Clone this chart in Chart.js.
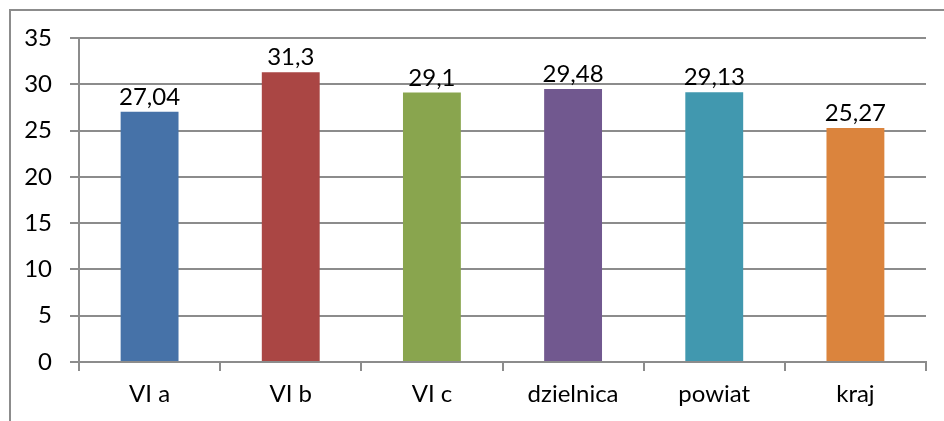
<!DOCTYPE html>
<html>
<head>
<meta charset="utf-8">
<script src="https://cdn.jsdelivr.net/npm/chart.js@4"></script>
<style>
html,body{margin:0;padding:0;background:#fff;}
#wrap{position:relative;width:944px;height:421px;}
#frame{position:absolute;left:9px;top:9px;width:960px;height:430px;border:2px solid #8c8c8c;box-sizing:border-box;}
canvas{position:absolute;left:0;top:0;}
</style>
</head>
<body>
<div id="wrap">
<div id="frame"></div>
<canvas id="c" width="944" height="421"></canvas>
</div>
<script>
const categories = ["VI a", "VI b", "VI c", "dzielnica", "powiat", "kraj"];
const values = [27.04, 31.3, 29.1, 29.48, 29.13, 25.27];
const valueLabels = ["27,04", "31,3", "29,1", "29,48", "29,13", "25,27"];
const barColors = ["#4672A8", "#AA4644", "#89A54E", "#71588F", "#4198AF", "#DB843D"];
const yTicks = [0, 5, 10, 15, 20, 25, 30, 35];

const FONT = "Lato, 'Open Sans', sans-serif";

const labelPlugin = {
  id: 'valueLabels',
  afterDatasetsDraw(chart) {
    const ctx = chart.ctx;
    const meta = chart.getDatasetMeta(0);
    ctx.save();
    ctx.font = "24px " + FONT;
    ctx.fillStyle = "#000";
    ctx.textAlign = "center";
    ctx.textBaseline = "alphabetic";
    meta.data.forEach((bar, i) => {
      ctx.fillText(valueLabels[i], bar.x, bar.y - 7);
    });
    ctx.restore();
  }
};

new Chart(document.getElementById('c'), {
  type: 'bar',
  data: {
    labels: categories,
    datasets: [{
      data: values,
      backgroundColor: barColors,
      borderWidth: 0,
      categoryPercentage: 0.41,
      barPercentage: 1.0
    }]
  },
  options: {
    responsive: false,
    animation: false,
    devicePixelRatio: 1,
    layout: { padding: { left: 0, right: 18, top: 38, bottom: 0 } },
    plugins: { legend: { display: false }, tooltip: { enabled: false } },
    scales: {
      x: {
        offset: true,
        grid: { offset: true, drawOnChartArea: false, drawTicks: true, tickLength: 9, color: '#8c8c8c', lineWidth: 2 },
        border: { color: '#8c8c8c', width: 2 },
        ticks: { color: '#000', font: { family: FONT, size: 24 }, padding: 9, maxRotation: 0 },
        afterFit(s) { s.height = 59; }
      },
      y: {
        min: 0, max: 35,
        afterBuildTicks(s) { s.ticks = yTicks.map(v => ({ value: v })); },
        grid: { color: '#8c8c8c', lineWidth: 2, drawTicks: true, tickLength: 9 },
        border: { color: '#8c8c8c', width: 2 },
        ticks: { color: '#000', font: { family: FONT, size: 24 }, padding: 18 },
        afterFit(s) { s.width = 79; }
      }
    }
  },
  plugins: [labelPlugin]
});
</script>
</body>
</html>
